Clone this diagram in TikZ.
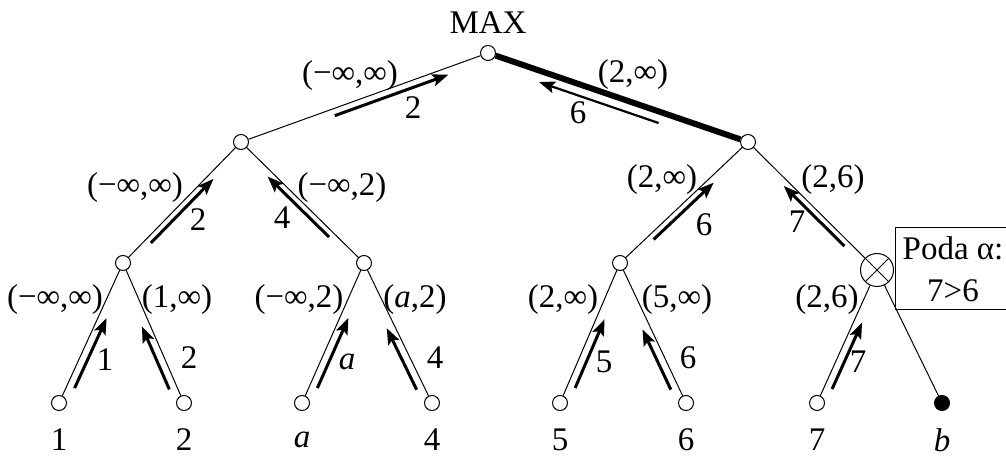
\documentclass[tikz,border=0pt]{standalone}
\usepackage{fontspec}
\setmainfont{Liberation Serif}
\usetikzlibrary{arrows.meta,calc}
\tikzset{vtx/.style={circle, draw, fill=white, inner sep=0pt, minimum size=7.5pt, line width=0.5pt},
  cut/.style={circle, draw, fill=white, inner sep=0pt, minimum size=16.5pt, line width=0.5pt,
    path picture={\draw[line width=0.5pt] (path picture bounding box.north west) -- (path picture bounding box.south east)
      (path picture bounding box.north east) -- (path picture bounding box.south west);}},
  br/.style={line width=0.5pt},
  ret/.style={line width=1.5pt, -{Stealth[length=8pt, width=6pt, inset=1.5pt]}},
  lbl/.style={inner sep=0pt}}

\begin{document}
\begin{tikzpicture}[x=0.5pt, y=-0.5pt, font=\fontsize{16.5}{21}\selectfont]
  \useasboundingbox (0,0) rectangle (1006,459);
  % tree nodes
  \node[vtx] (root) at (488,53) {};
  \node[lbl] (max) at (488,23) {MAX};
  \node[vtx] (l) at (241,142) {};
  \node[vtx] (r) at (748,142) {};
  \node[vtx] (ll) at (123,263) {};
  \node[vtx] (lr) at (364,263) {};
  \node[vtx] (rl) at (620,263) {};
  \node[cut] (rr) at (877,270) {};
  \node[vtx] (t1) at (59,403) {};
  \node[vtx] (t2) at (184,403) {};
  \node[vtx] (ta) at (302,403) {};
  \node[vtx] (t4) at (432,403) {};
  \node[vtx] (t5) at (560,403) {};
  \node[vtx] (t6) at (686,403) {};
  \node[vtx] (t7) at (817,403) {};
  \node[vtx, fill=black] (tb) at (942,403) {};
  % leaf values
  \node[lbl] (n1) at (59,440) {1};
  \node[lbl] (n2) at (184,440) {2};
  \node[lbl] (na) at (302,440) {\itshape a};
  \node[lbl] (n4) at (432,440) {4};
  \node[lbl] (n5) at (560,440) {5};
  \node[lbl] (n6) at (686,440) {6};
  \node[lbl] (n7) at (817,440) {7};
  \node[lbl] (nb) at (942,440) {\itshape b};
  % branches
  \draw[br] (root) -- (l) (l) -- (ll) (l) -- (lr) (r) -- (rl) (r) -- (rr);
  \draw[br] (ll) -- (t1) (ll) -- (t2) (lr) -- (ta) (lr) -- (t4);
  \draw[br] (rl) -- (t5) (rl) -- (t6) (rr) -- (t7) (rr) -- (tb);
  \draw[line width=3pt] (root) -- (r);
  % windows
  \node[lbl] (wl) at (350,76) {(−∞,∞)};
  \node[lbl] (wr) at (633,75) {(2,∞)};
  \node[lbl] (wll) at (135,188) {(−∞,∞)};
  \node[lbl] (wlr) at (342,188) {(−∞,2)};
  \node[lbl] (wrl) at (662,180) {(2,∞)};
  \node[lbl] (wrr) at (833,180) {(2,6)};
  \node[lbl] (w1) at (55,300) {(−∞,∞)};
  \node[lbl] (w2) at (177,300) {(1,∞)};
  \node[lbl] (wa) at (299,300) {(−∞,2)};
  \node[lbl] (w4) at (415,300) {(\textit{a},2)};
  \node[lbl] (w5) at (563,300) {(2,∞)};
  \node[lbl] (w6) at (677,300) {(5,∞)};
  \node[lbl] (w7) at (827,300) {(2,6)};
  % returned values
  \draw[ret] ($(l)!.37!(root)!3.5pt!-90:(root)$) -- ($(l)!.83!(root)!3.5pt!-90:(root)$);
  \draw[ret, line width=1.1pt] ($(r)!.33!(root)!5.5pt!90:(root)$) -- ($(r)!.79!(root)!5.5pt!90:(root)$);
  \draw[ret] ($(ll)!.2!(l)!3pt!-90:(l)$) -- ($(ll)!.73!(l)!3pt!-90:(l)$);
  \draw[ret] ($(lr)!.25!(l)!3pt!90:(l)$) -- ($(lr)!.75!(l)!3pt!90:(l)$);
  \draw[ret] ($(rl)!.23!(r)!3pt!-90:(r)$) -- ($(rl)!.7!(r)!3pt!-90:(r)$);
  \draw[ret] ($(rr)!.22!(r)!3pt!90:(r)$) -- ($(rr)!.69!(r)!3pt!90:(r)$);
  \draw[ret] ($(t1)!.13!(ll)!4pt!-90:(ll)$) -- ($(t1)!.63!(ll)!4pt!-90:(ll)$);
  \draw[ret] ($(t2)!.12!(ll)!4pt!90:(ll)$) -- ($(t2)!.57!(ll)!4pt!90:(ll)$);
  \draw[ret] ($(ta)!.13!(lr)!4pt!-90:(lr)$) -- ($(ta)!.63!(lr)!4pt!-90:(lr)$);
  \draw[ret] ($(t4)!.12!(lr)!4pt!90:(lr)$) -- ($(t4)!.56!(lr)!4pt!90:(lr)$);
  \draw[ret] ($(t5)!.13!(rl)!4pt!-90:(rl)$) -- ($(t5)!.62!(rl)!4pt!-90:(rl)$);
  \draw[ret] ($(t6)!.12!(rl)!4pt!90:(rl)$) -- ($(t6)!.55!(rl)!4pt!90:(rl)$);
  \draw[ret] ($(t7)!.13!(rr)!4pt!-90:(rr)$) -- ($(t7)!.63!(rr)!4pt!-90:(rr)$);
  \node[lbl] (vl) at (413,108) {2};
  \node[lbl] (vr) at (578,113) {6};
  \node[lbl] (vll) at (198,220) {2};
  \node[lbl] (vlr) at (282,218) {4};
  \node[lbl] (vrl) at (704,225) {6};
  \node[lbl] (vrr) at (797,222) {7};
  \node[lbl] (v1) at (105,360) {1};
  \node[lbl] (v2) at (189,358) {2};
  \node[lbl] (va) at (347,362) {\itshape a};
  \node[lbl] (v4) at (435,358) {4};
  \node[lbl] (v5) at (604,362) {5};
  \node[lbl] (v6) at (688,358) {6};
  \node[lbl] (v7) at (858,362) {7};
  % cut-off note
  \node[draw, line width=0.5pt, minimum width=58pt, minimum height=41pt, align=center, inner sep=0pt] (poda) at (953,269) {Poda α:\\7>6};
\end{tikzpicture}
\end{document}
